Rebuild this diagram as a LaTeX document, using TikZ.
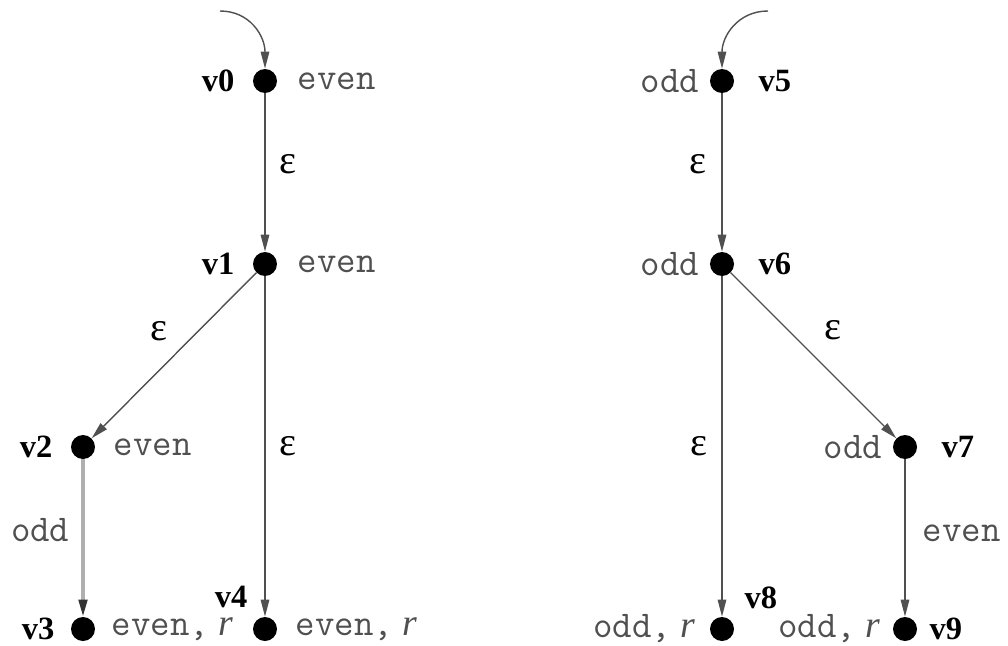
\documentclass[tikz,border=0pt]{standalone}
\usepackage{fontspec}
\setmainfont{Liberation Serif}
\usepackage{tikz}
\usetikzlibrary{positioning, arrows.meta}
\definecolor{edgegray}{RGB}{80,80,80}
\definecolor{lightedge}{RGB}{175,175,175}
\definecolor{attrgray}{RGB}{80,80,80}

\begin{document}
\begin{tikzpicture}[
    x=0.02cm, y=-0.02cm,
    every node/.style={font=\fontsize{18}{21}\selectfont},
    dot/.style={
        circle,
        fill=black,
        inner sep=0pt,
        minimum size=0.48cm
    },
    vname/.style={
        font=\fontsize{18.5}{21}\selectfont\bfseries,
        inner sep=0pt
    },
    attr/.style={
        font=\fontsize{21.5}{24}\selectfont\ttfamily,
        text=attrgray,
        inner sep=0pt
    },
    elabel/.style={font=\fontsize{23}{26}\selectfont, inner sep=0pt},
    arrow/.style={-{Triangle[length=0.34cm, width=0.17cm]}, line width=0.8pt, draw=edgegray},
    faintarrow/.style={-{Triangle[length=0.34cm, width=0.17cm, color=black!80]}, line width=1.8pt, draw=lightedge}
]
\useasboundingbox (0,0) rectangle (1008,646);

% left automaton
\node[dot] (v0) at (265,81) {};
\node[dot] (v1) at (265,264) {};
\node[dot] (v2) at (83,447) {};
\node[dot] (v3) at (83,629) {};
\node[dot] (v4) at (265,629) {};

\node[vname, left=0.36cm of v0] (n0) {v0};
\node[attr, right=0.4cm of v0] (a0) {even};
\node[vname, left=0.36cm of v1] (n1) {v1};
\node[attr, right=0.4cm of v1] (a1) {even};
\node[vname, left=0.36cm of v2] (n2) {v2};
\node[attr, right=0.36cm of v2] (a2) {even};
\node[vname, left=0.32cm of v3] (n3) {v3};
\node[attr, right=0.32cm of v3] (a3) {even,{\rmfamily\itshape\ r}};
\node[vname, above left=0.25cm and 0.17cm of v4] (n4) {v4};
\node[attr, right=0.36cm of v4] (a4) {even,{\rmfamily\itshape\ r}};

% right automaton
\node[dot] (v5) at (722,81) {};
\node[dot] (v6) at (722,264) {};
\node[dot] (v7) at (905,447) {};
\node[dot] (v8) at (722,629) {};
\node[dot] (v9) at (905,629) {};

\node[attr, left=0.2cm of v5] (a5) {odd};
\node[vname, right=0.48cm of v5] (n5) {v5};
\node[attr, left=0.2cm of v6] (a6) {odd};
\node[vname, right=0.48cm of v6] (n6) {v6};
\node[attr, left=0.2cm of v7] (a7) {odd};
\node[vname, right=0.48cm of v7] (n7) {v7};
\node[attr, left=0.28cm of v8] (a8) {odd,{\rmfamily\itshape\ r}};
\node[vname, above right=0.23cm and 0.27cm of v8] (n8) {v8};
\node[attr, left=0.24cm of v9] (a9) {odd,{\rmfamily\itshape\ r}};
\node[vname, right=0.24cm of v9] (n9) {v9};

% initial arrows
\coordinate (s0) at (220,11);
\coordinate (s5) at (768,11);
\draw[arrow] (s0) .. controls +(30,0) and +(0,-45) .. (v0);
\draw[arrow] (s5) .. controls +(-30,0) and +(0,-45) .. (v5);

% transitions
\draw[arrow] (v0) -- node[elabel, pos=0.45, right=0.28cm] (e01) {ε} (v1);
\draw[arrow] (v1) -- node[elabel, pos=0.47, xshift=-0.39cm, yshift=0.39cm] (e12) {ε} (v2);
\draw[arrow] (v1) -- node[elabel, pos=0.5, right=0.28cm] (e14) {ε} (v4);
\draw[faintarrow] (v2) -- node[attr, pos=0.45, left=0.24cm] (e23) {odd} (v3);

\draw[arrow] (v5) -- node[elabel, pos=0.45, left=0.3cm] (e56) {ε} (v6);
\draw[arrow] (v6) -- node[elabel, pos=0.48, xshift=0.45cm, yshift=0.45cm] (e67) {ε} (v7);
\draw[arrow] (v6) -- node[elabel, pos=0.5, left=0.28cm] (e68) {ε} (v8);
\draw[arrow] (v7) -- node[attr, pos=0.47, right=0.34cm] (e79) {even} (v9);

\end{tikzpicture}
\end{document}
